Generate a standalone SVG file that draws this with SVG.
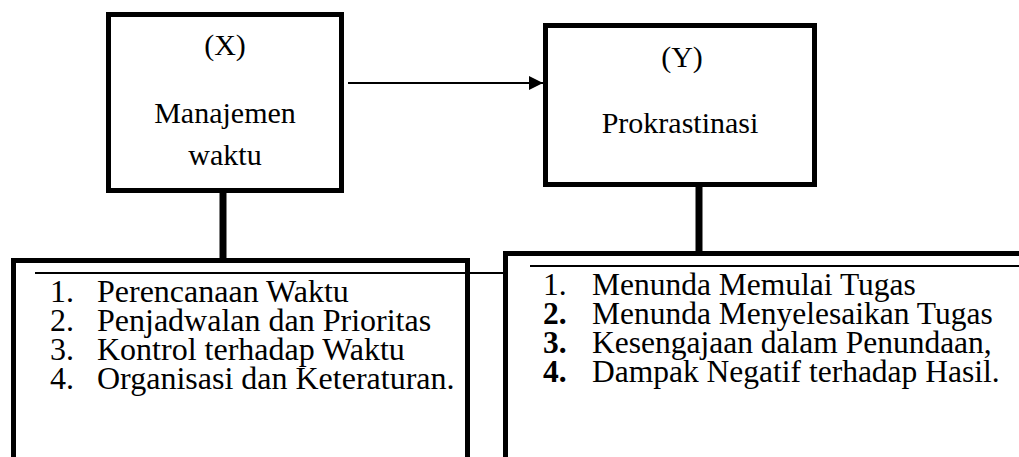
<svg xmlns="http://www.w3.org/2000/svg" width="1019" height="457" viewBox="0 0 1019 457">
<style>
.box{fill:#fff;stroke:#000;stroke-width:5}
.t{font-family:"Liberation Serif","Times New Roman",serif;fill:#000}
.h{font-size:30px;text-anchor:middle}
.l{font-size:32px}
.r{font-size:31.5px}
.thick{stroke:#000;stroke-width:7}
.thin{stroke:#000;stroke-width:2}
</style>
<defs>
<marker id="ah" viewBox="0 0 14 14" refX="14" refY="7" markerWidth="14" markerHeight="14" orient="auto" markerUnits="userSpaceOnUse">
<path d="M0,0 L14,7 L0,14 z" fill="#000"/>
</marker>
</defs>
<g id="connectors">
<line class="thick" x1="223" y1="192" x2="223" y2="260"/>
<line class="thick" x1="699" y1="186" x2="699" y2="252"/>
<line x1="348" y1="83" x2="543" y2="83" stroke="#000" stroke-width="2.2" marker-end="url(#ah)"/>
</g>
<g id="nodeX">
<rect class="box" x="108.5" y="14.5" width="233" height="176"/>
<text class="t h" x="225" y="55">(X)</text>
<text class="t h" x="225" y="123">Manajemen</text>
<text class="t h" x="225" y="165">waktu</text>
</g>
<g id="nodeY">
<rect class="box" x="545.5" y="25.5" width="269" height="159"/>
<text class="t h" x="682" y="67">(Y)</text>
<text class="t h" x="680" y="133" font-size="31.5">Prokrastinasi</text>
</g>
<g id="indicatorsX">
<rect class="box" x="13.5" y="260.5" width="454" height="260"/>
<line class="thin" x1="35" y1="273" x2="505" y2="273"/>
<text class="t l" x="50" y="302">1.</text><text class="t l" x="97" y="302">Perencanaan Waktu</text>
<text class="t l" x="50" y="331">2.</text><text class="t l" x="97" y="331">Penjadwalan dan Prioritas</text>
<text class="t l" x="50" y="360">3.</text><text class="t l" x="97" y="360">Kontrol terhadap Waktu</text>
<text class="t l" x="50" y="389">4.</text><text class="t l" x="97" y="389">Organisasi dan Keteraturan.</text>
</g>
<g id="indicatorsY">
<rect class="box" x="505.5" y="253.5" width="600" height="260"/>
<line class="thin" x1="530" y1="266" x2="1019" y2="266"/>
<text class="t r" x="543" y="295">1.</text><text class="t r" x="592" y="295">Menunda Memulai Tugas</text>
<text class="t r" x="543" y="324" font-weight="bold">2.</text><text class="t r" x="592" y="324">Menunda Menyelesaikan Tugas</text>
<text class="t r" x="543" y="353" font-weight="bold">3.</text><text class="t r" x="592" y="353">Kesengajaan dalam Penundaan,</text>
<text class="t r" x="543" y="382" font-weight="bold">4.</text><text class="t r" x="592" y="382">Dampak Negatif terhadap Hasil.</text>
</g>
</svg>
